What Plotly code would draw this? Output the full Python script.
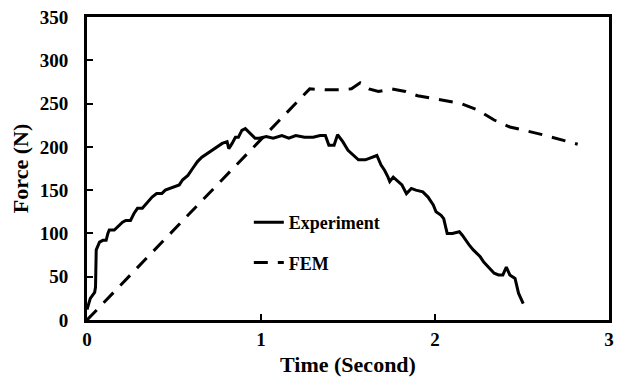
import plotly.graph_objects as go

exp_t = [0.0, 0.019, 0.044, 0.049, 0.053, 0.072, 0.091, 0.11, 0.12, 0.128, 0.157, 0.176, 0.204,
         0.223, 0.25, 0.27, 0.29, 0.318, 0.336, 0.356, 0.374, 0.40, 0.43, 0.45, 0.478, 0.506,
         0.53, 0.55, 0.58, 0.607, 0.635, 0.66, 0.69, 0.72, 0.75, 0.777, 0.805, 0.815, 0.834,
         0.853, 0.87, 0.89, 0.91, 0.93, 0.947, 0.966, 0.99, 1.03, 1.07, 1.12, 1.16, 1.2, 1.25,
         1.3, 1.34, 1.37, 1.39, 1.42, 1.44, 1.47, 1.5, 1.52, 1.56, 1.6, 1.63, 1.666, 1.69, 1.71,
         1.73, 1.74, 1.76, 1.79, 1.81, 1.836, 1.864, 1.89, 1.93, 1.96, 1.99, 2.006, 2.035, 2.05,
         2.07, 2.1, 2.14, 2.157, 2.176, 2.195, 2.22, 2.24, 2.26, 2.28, 2.31, 2.34, 2.365, 2.39,
         2.41, 2.43, 2.46, 2.48, 2.507]
exp_f = [12, 25, 32, 38, 81, 90, 92, 92, 100, 104, 104, 108, 113,
         115, 115, 123, 129, 129, 133, 138, 142, 146, 146, 150, 152, 154,
         156, 162, 167, 175, 183, 188, 192, 196, 200, 204, 206, 198, 204,
         211, 211, 219, 221, 217, 213, 210, 210, 212, 210, 213, 210, 213, 211,
         211, 213, 213, 202, 202, 214, 206, 196, 192, 185, 185, 187, 190, 179, 173,
         165, 160, 165, 160, 156, 146, 152, 150, 148, 142, 133, 125, 121, 117,
         100, 100, 102, 98, 92, 87, 81, 77, 73, 67, 61, 54, 52, 52,
         61, 52, 48, 31, 19]

fem_t = [0.0, 1.28, 1.37, 1.47, 1.52, 1.57, 1.62, 1.675, 1.75, 1.83, 1.9, 2.05, 2.15, 2.24,
         2.34, 2.43, 2.62, 2.82]
fem_f = [0, 267, 266, 266, 267, 274, 267, 264, 267, 264, 259, 254, 250, 243,
         231, 223, 214, 203]

x_ticks = [0, 1, 2, 3]
y_ticks = [0, 50, 100, 150, 200, 250, 300, 350]

font_family = "Liberation Serif"

fig = go.Figure()
fig.add_trace(go.Scatter(x=exp_t, y=exp_f, mode="lines", name="<b>Experiment</b>",
                         legendgroup="exp",
                         line=dict(color="black", width=3)))
fig.add_trace(go.Scatter(x=fem_t, y=fem_f, mode="lines", name="<b>FEM</b>",
                         legendgroup="fem",
                         line=dict(color="black", width=3, dash="14px,10px")))

axis_common = dict(showgrid=False, zeroline=False, showline=True, linecolor="black",
                   linewidth=3, mirror=True, ticks="inside", tickcolor="black",
                   tickwidth=2, ticklen=6, automargin=False, ticklabeloverflow="allow",
                   tickfont=dict(family=font_family, size=19, color="black"))

fig.update_xaxes(range=[0, 3], tickvals=x_ticks, ticktext=[f"<b>{v}</b>" for v in x_ticks],
                 ticklabelstandoff=0,
                 title=dict(text="<b>Time (Second)</b>",
                            font=dict(family=font_family, size=22, color="black"),
                            standoff=10),
                 **axis_common)
fig.update_yaxes(range=[0, 350], tickvals=y_ticks, ticktext=[f"<b>{v}</b>" for v in y_ticks],
                 ticklabelstandoff=12,
                 title=dict(text="<b>Force (N)</b>",
                            font=dict(family=font_family, size=22, color="black"),
                            standoff=14),
                 **axis_common)

fig.update_layout(
    width=606, height=369,
    margin=dict(l=79, r=5, t=9, b=57),
    paper_bgcolor="white", plot_bgcolor="white",
    font=dict(family=font_family, color="black"),
    legend=dict(x=0.31, y=0.256, xanchor="left", yanchor="middle",
                bgcolor="rgba(0,0,0,0)", tracegroupgap=14,
                font=dict(family=font_family, size=18, color="black")),
)

fig.write_html("out.html")
